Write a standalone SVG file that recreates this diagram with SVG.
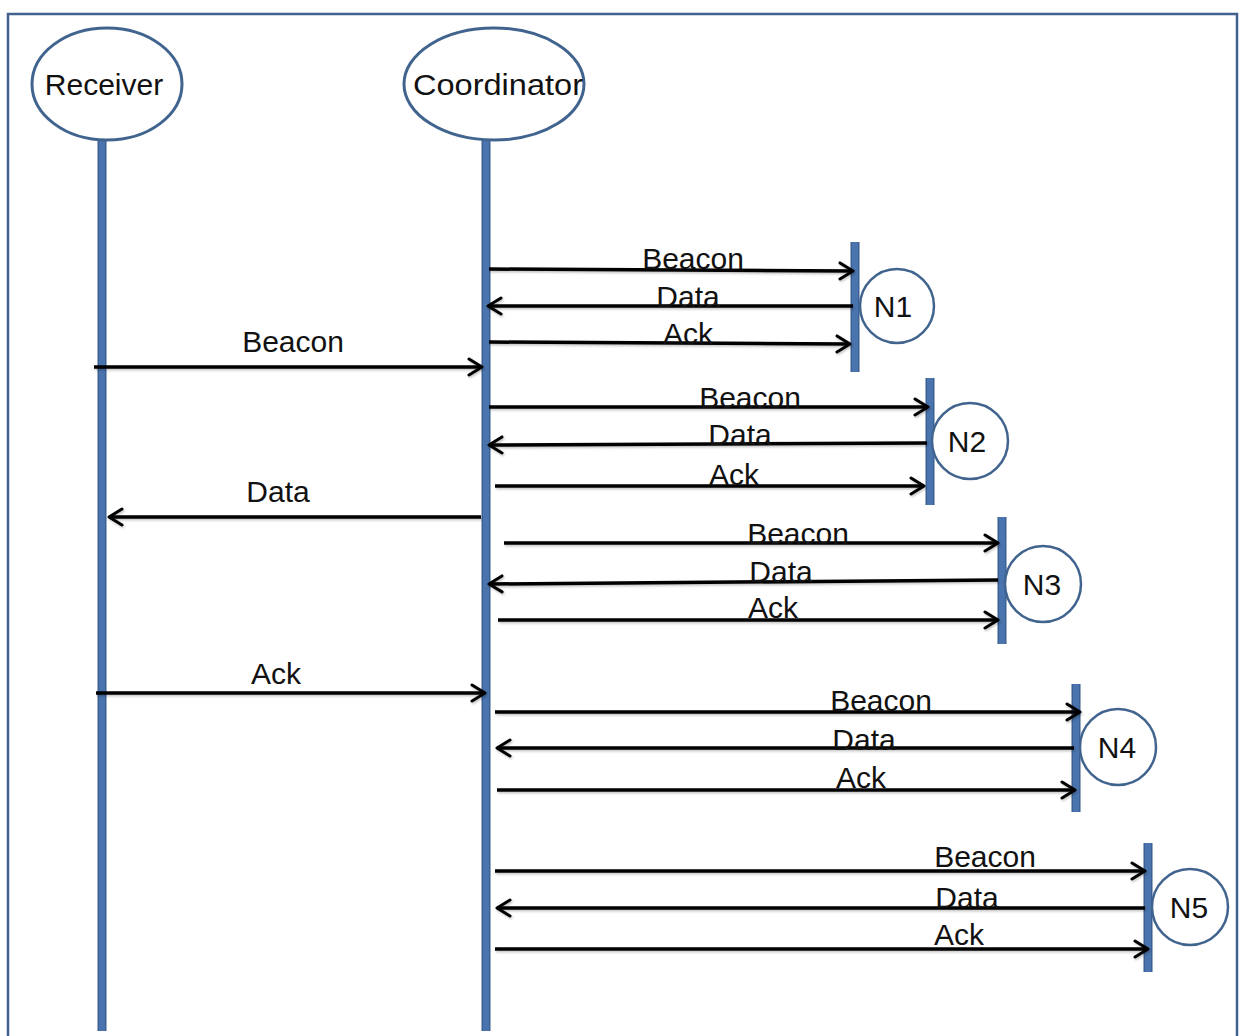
<svg xmlns="http://www.w3.org/2000/svg" width="1239" height="1036" viewBox="0 0 1239 1036">
  <defs>
    <marker id="head" markerWidth="18" markerHeight="20" refX="15" refY="10" orient="auto" markerUnits="userSpaceOnUse">
      <path d="M2,2 L15,10 L2,18" fill="none" stroke="#000" stroke-width="3" stroke-linecap="round" stroke-linejoin="round"/>
    </marker>
    <filter id="shade" x="-5%" y="-50%" width="110%" height="200%">
      <feDropShadow dx="1" dy="1.5" stdDeviation="1" flood-color="#000" flood-opacity="0.25"/>
    </filter>
  </defs>
  <style>
    .frame { fill: #fff; stroke: #41628f; stroke-width: 2.5; }
    .actor { fill: #fff; stroke: #41648f; stroke-width: 3; }
    .life { stroke: #4a74ad; stroke-width: 6.5; stroke-linecap: butt; }
    .lifeedge { stroke: #385b8c; stroke-width: 9; }
    .node { fill: #fff; stroke: #41648f; stroke-width: 2.5; }
    .msg { stroke: #000; stroke-width: 3.5; fill: none; marker-end: url(#head); }
    text { font-family: "Liberation Sans", Arial, sans-serif; font-size: 30px; fill: #111; text-anchor: middle; }
  </style>

  <rect class="frame" x="8" y="14" width="1229" height="1030"/>

  <!-- actors with lifelines -->
  <g id="receiver">
    <line class="lifeedge" x1="102" y1="140" x2="102" y2="1031"/>
    <line class="life" x1="102" y1="140" x2="102" y2="1031"/>
    <ellipse class="actor" cx="107" cy="84" rx="75" ry="56"/>
    <text x="104" y="95">Receiver</text>
  </g>
  <g id="coordinator">
    <line class="lifeedge" x1="486" y1="140" x2="486" y2="1031"/>
    <line class="life" x1="486" y1="140" x2="486" y2="1031"/>
    <ellipse class="actor" cx="494" cy="84" rx="90" ry="56"/>
    <text x="498" y="95" textLength="170" lengthAdjust="spacingAndGlyphs">Coordinator</text>
  </g>

  <!-- sensor nodes: activation bar plus circle -->
  <g id="n1">
    <line class="lifeedge" x1="855" y1="242" x2="855" y2="372"/>
    <line class="life" x1="855" y1="242" x2="855" y2="372"/>
    <circle class="node" cx="897" cy="306" r="37"/>
    <text x="893" y="317">N1</text>
  </g>
  <g id="n2">
    <line class="lifeedge" x1="930" y1="378" x2="930" y2="505"/>
    <line class="life" x1="930" y1="378" x2="930" y2="505"/>
    <circle class="node" cx="970" cy="441" r="38"/>
    <text x="967" y="452">N2</text>
  </g>
  <g id="n3">
    <line class="lifeedge" x1="1002" y1="517" x2="1002" y2="644"/>
    <line class="life" x1="1002" y1="517" x2="1002" y2="644"/>
    <circle class="node" cx="1043" cy="584" r="38"/>
    <text x="1042" y="595">N3</text>
  </g>
  <g id="n4">
    <line class="lifeedge" x1="1076" y1="684" x2="1076" y2="812"/>
    <line class="life" x1="1076" y1="684" x2="1076" y2="812"/>
    <circle class="node" cx="1118" cy="747" r="38"/>
    <text x="1117" y="758">N4</text>
  </g>
  <g id="n5">
    <line class="lifeedge" x1="1148" y1="843" x2="1148" y2="972"/>
    <line class="life" x1="1148" y1="843" x2="1148" y2="972"/>
    <circle class="node" cx="1190" cy="907" r="38"/>
    <text x="1189" y="918">N5</text>
  </g>

  <!-- messages -->
  <g id="connectors" filter="url(#shade)">
    <!-- Receiver / Coordinator -->
    <line class="msg" x1="94" y1="367" x2="482" y2="367"/>
    <line class="msg" x1="481" y1="517" x2="109" y2="517"/>
    <line class="msg" x1="96" y1="693" x2="485" y2="693"/>
    <!-- N1 -->
    <line class="msg" x1="489" y1="269" x2="853" y2="271"/>
    <line class="msg" x1="853" y1="306" x2="488" y2="306"/>
    <line class="msg" x1="489" y1="342" x2="850" y2="344"/>
    <!-- N2 -->
    <line class="msg" x1="489" y1="407" x2="928" y2="407"/>
    <line class="msg" x1="927" y1="443" x2="489" y2="445"/>
    <line class="msg" x1="495" y1="486" x2="924" y2="486"/>
    <!-- N3 -->
    <line class="msg" x1="504" y1="543" x2="998" y2="543"/>
    <line class="msg" x1="998" y1="580" x2="489" y2="584"/>
    <line class="msg" x1="498" y1="620" x2="998" y2="620"/>
    <!-- N4 -->
    <line class="msg" x1="495" y1="712" x2="1080" y2="712"/>
    <line class="msg" x1="1074" y1="748" x2="497" y2="748"/>
    <line class="msg" x1="497" y1="790" x2="1075" y2="790"/>
    <!-- N5 -->
    <line class="msg" x1="495" y1="871" x2="1145" y2="871"/>
    <line class="msg" x1="1145" y1="908" x2="497" y2="908"/>
    <line class="msg" x1="495" y1="949" x2="1148" y2="949"/>
  </g>

  <!-- message labels -->
  <g id="labels">
    <text x="293" y="352">Beacon</text>
    <text x="278" y="502">Data</text>
    <text x="276" y="684">Ack</text>

    <text x="693" y="269">Beacon</text>
    <text x="688" y="307">Data</text>
    <text x="688" y="344">Ack</text>

    <text x="750" y="408">Beacon</text>
    <text x="740" y="445">Data</text>
    <text x="734" y="485">Ack</text>

    <text x="798" y="544">Beacon</text>
    <text x="781" y="582">Data</text>
    <text x="773" y="618">Ack</text>

    <text x="881" y="711">Beacon</text>
    <text x="864" y="750">Data</text>
    <text x="861" y="788">Ack</text>

    <text x="985" y="867">Beacon</text>
    <text x="967" y="908">Data</text>
    <text x="959" y="945">Ack</text>
  </g>
</svg>
